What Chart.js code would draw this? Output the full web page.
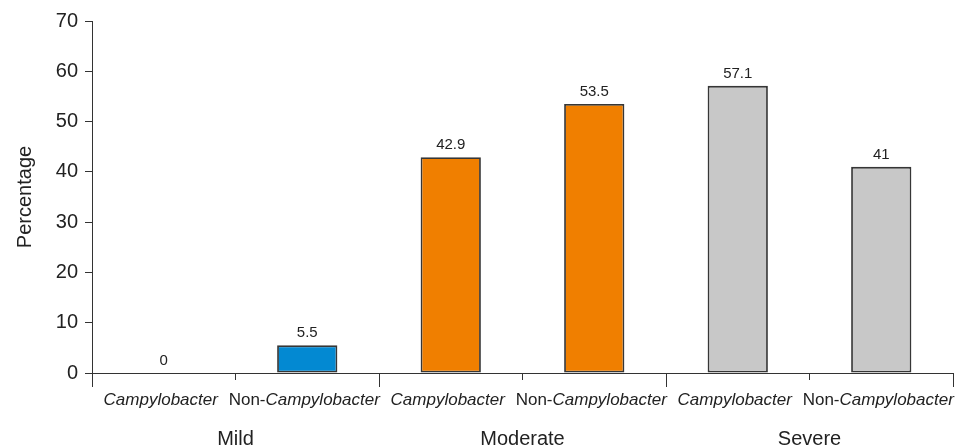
<!DOCTYPE html>
<html>
<head>
<meta charset="utf-8">
<script src="https://cdn.jsdelivr.net/npm/chart.js@4.4.1/dist/chart.umd.min.js"></script>
<style>
  html, body { margin: 0; padding: 0; background: #ffffff; }
  #wrap { width: 971px; height: 448px; position: relative; }
</style>
</head>
<body>
<div id="wrap"><canvas id="myChart"></canvas></div>
<script>
// Datos del grafico
const categorias = ["Campylobacter", "Non-Campylobacter", "Campylobacter", "Non-Campylobacter", "Campylobacter", "Non-Campylobacter"];
const grupos = ["Mild", "Moderate", "Severe"];
const valores = [0, 5.5, 42.9, 53.5, 57.1, 41];
const coloresBarras = ["#0389d2", "#0389d2", "#f07f00", "#f07f00", "#c8c8c8", "#c8c8c8"];
const yTicks = [0, 10, 20, 30, 40, 50, 60, 70];

const fuente = "'Liberation Sans', Arial, sans-serif";
const colorTexto = "#222222";
const colorEje = "#333333";

// Plugin para etiquetas de categorias, grupos y valores
const etiquetasPlugin = {
    id: "etiquetas",
    afterDraw(chart) {
        const ctx = chart.ctx;
        const x = chart.scales.x;
        const half = (x.getPixelForValue(1) - x.getPixelForValue(0)) / 2;
        const base = chart.chartArea.bottom;

        ctx.save();
        ctx.strokeStyle = colorEje;
        ctx.lineWidth = 1;

        // ticks largos entre grupos
        for (let k = 0; k <= categorias.length; k += 2) {
            const px = Math.round(x.getPixelForValue(k) - half) + 0.5;
            ctx.beginPath();
            ctx.moveTo(px, base);
            ctx.lineTo(px, base + 14);
            ctx.stroke();
        }

        // etiquetas de categoria (Campylobacter en cursiva)
        ctx.fillStyle = colorTexto;
        ctx.textBaseline = "alphabetic";
        ctx.textAlign = "left";
        categorias.forEach((cat, i) => {
            const cx = x.getPixelForValue(i) - 3;
            let prefijo = "";
            let nombre = cat;
            if (cat.startsWith("Non-")) {
                prefijo = "Non-";
                nombre = cat.slice(4);
            }
            ctx.font = "17px " + fuente;
            const w1 = ctx.measureText(prefijo).width;
            ctx.font = "italic 17px " + fuente;
            const w2 = ctx.measureText(nombre).width;
            let start = cx - (w1 + w2) / 2;
            ctx.font = "17px " + fuente;
            ctx.fillText(prefijo, start, base + 32);
            ctx.font = "italic 17px " + fuente;
            ctx.fillText(nombre, start + w1, base + 32);
        });

        // etiquetas de grupo
        ctx.font = "20px " + fuente;
        ctx.textAlign = "center";
        grupos.forEach((g, i) => {
            const gx = (x.getPixelForValue(i * 2) + x.getPixelForValue(i * 2 + 1)) / 2;
            ctx.fillText(g, gx, base + 72);
        });

        // valores sobre las barras
        const meta = chart.getDatasetMeta(0);
        ctx.font = "15px " + fuente;
        meta.data.forEach((bar, i) => {
            ctx.fillText(String(valores[i]), bar.x, bar.y - 8);
        });
        ctx.restore();
    }
};

const config = {
    type: "bar",
    data: {
        labels: categorias,
        datasets: [
            {
                data: valores,
                backgroundColor: coloresBarras,
                borderColor: "#363636",
                borderWidth: (c) => (valores[c.dataIndex] === 0 ? 0 : 1.8),
                borderSkipped: false,
                barPercentage: 0.42,
                categoryPercentage: 1,
            }
        ]
    },
    options: {
        responsive: true,
        maintainAspectRatio: false,
        animation: false,
        layout: {
            padding: { top: 21, right: 18, bottom: 0, left: 0 }
        },
        scales: {
            x: {
                offset: true,
                ticks: { display: false },
                grid: {
                    display: true,
                    drawOnChartArea: false,
                    drawTicks: true,
                    tickLength: 7,
                    color: colorEje,
                    offset: true,
                },
                border: { display: true, color: colorEje, width: 1 },
                afterFit(scale) { scale.height = 75; }
            },
            y: {
                min: 0,
                max: 70,
                afterBuildTicks(scale) {
                    scale.ticks = yTicks.map(v => ({ value: v }));
                },
                ticks: {
                    color: colorTexto,
                    padding: 7,
                    font: { family: fuente, size: 20 },
                },
                grid: {
                    drawOnChartArea: false,
                    drawTicks: true,
                    tickLength: 7,
                    color: colorEje,
                },
                border: { display: true, color: colorEje, width: 1 },
                title: {
                    display: true,
                    text: "Percentage",
                    color: colorTexto,
                    font: { family: fuente, size: 20 },
                    padding: { top: 13, bottom: 0 },
                },
                afterFit(scale) { scale.width = 92; }
            }
        },
        plugins: {
            legend: { display: false },
            tooltip: { enabled: false },
        }
    },
    plugins: [etiquetasPlugin]
};

new Chart(document.getElementById("myChart"), config);
</script>
</body>
</html>
